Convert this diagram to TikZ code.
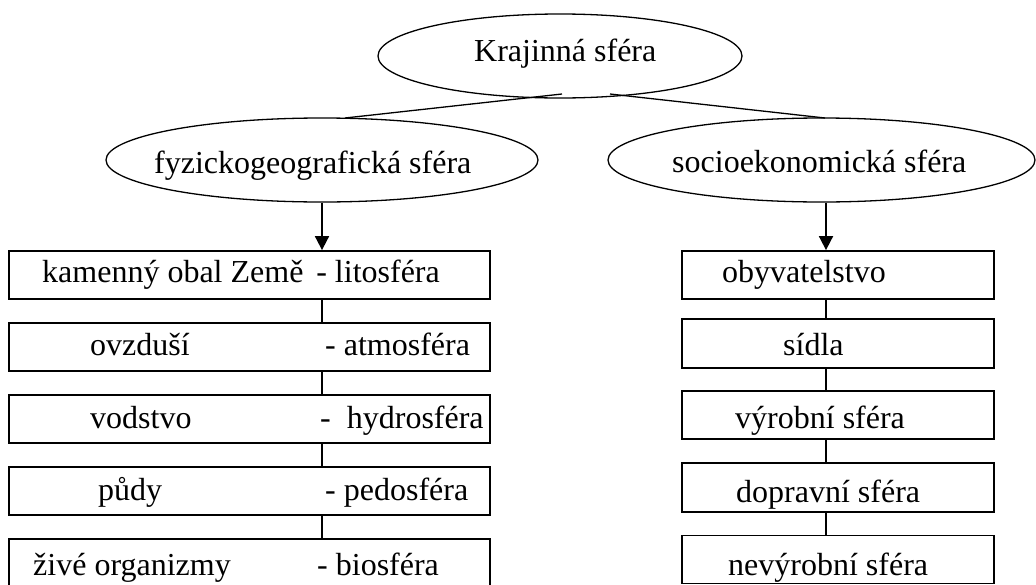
\documentclass[tikz,border=0pt]{standalone}
\usepackage{fontspec}
\setmainfont{Liberation Serif}
\usetikzlibrary{arrows.meta,shapes.geometric}
\begin{document}
\begin{tikzpicture}[x=1pt,y=-1pt,
  ell/.style={draw,ellipse,line width=1.3pt,inner sep=0pt},
  box/.style={draw,rectangle,line width=1.8pt,inner sep=0pt},
  lbox/.style={box,minimum width=481pt,minimum height=48pt},
  rbox/.style={box,minimum width=312pt,minimum height=48pt},
  txt/.style={anchor=base west,inner sep=0pt,font=\fontsize{32}{38}\selectfont},
  txte/.style={txt,anchor=base east},
  conn/.style={line width=1.8pt},
  arr/.style={conn,-{Triangle[length=14pt,width=14pt]}},
  ln/.style={line width=1.3pt}]
\useasboundingbox (0,0) rectangle (1036,584);
% ellipses
\node[ell,minimum width=364pt,minimum height=84pt] (top) at (560,56) {};
\node[ell,minimum width=432pt,minimum height=84pt] (fyz) at (322,160) {};
\node[ell,minimum width=427pt,minimum height=84pt] (soc) at (821.5,160) {};
\node[txt] (ttop) at (474,61) {Krajinná sféra};
\node[txt] (tfyz) at (154,173) {fyzickogeografická sféra};
\node[txt] (tsoc) at (672,172) {socioekonomická sféra};
% lines from top
\coordinate (tl) at (562,94);
\coordinate (tr) at (610,94);
\coordinate (fl) at (345,118);
\coordinate (sr) at (825,118);
\draw[ln] (tl) -- (fl);
\draw[ln] (tr) -- (sr);
% left boxes
\node[lbox] (l1) at (249.5,275) {};
\node[lbox] (l2) at (249.5,347) {};
\node[lbox] (l3) at (249.5,419) {};
\node[lbox] (l4) at (249.5,491) {};
\node[lbox] (l5) at (249.5,563) {};
\node[txt] (l1a) at (42,282) {kamenný obal Země};
\node[txte] (l1b) at (440,282) {- litosféra};
\node[txt] (l2a) at (90,355) {ovzduší};
\node[txt] (l2b) at (325,355) {- atmosféra};
\node[txt] (l3a) at (90,428) {vodstvo};
\node[txt] (l3b) at (320,428) {-~~hydrosféra};
\node[txt] (l4a) at (98,500) {půdy};
\node[txt] (l4b) at (325,500) {- pedosféra};
\node[txt] (l5a) at (33,575) {živé organizmy};
\node[txt] (l5b) at (317,575) {- biosféra};
% right boxes
\node[rbox] (r1) at (838,275) {};
\node[rbox,minimum height=49pt] (r2) at (838,343.5) {};
\node[rbox] (r3) at (838,415) {};
\node[rbox,minimum height=49pt] (r4) at (838,487.5) {};
\node[rbox] (r5) at (838,559.5) {};
\node[txt] (r1t) at (722,282) {obyvatelstvo};
\node[txt] (r2t) at (783,355) {sídla};
\node[txt] (r3t) at (735,428) {výrobní sféra};
\node[txt] (r4t) at (736,502) {dopravní sféra};
\node[txt] (r5t) at (728,575) {nevýrobní sféra};
% arrows
\coordinate (rx) at (826,0);
\draw[arr] (fyz.south) -- (fyz.south |- l1.north);
\draw[arr] (rx |- soc.south) -- (rx |- r1.north);
% connectors
\draw[conn] (l1.south -| fyz) -- (l2.north -| fyz);
\draw[conn] (l2.south -| fyz) -- (l3.north -| fyz);
\draw[conn] (l3.south -| fyz) -- (l4.north -| fyz);
\draw[conn] (l4.south -| fyz) -- (l5.north -| fyz);
\draw[conn] (r1.south -| rx) -- (r2.north -| rx);
\draw[conn] (r2.south -| rx) -- (r3.north -| rx);
\draw[conn] (r3.south -| rx) -- (r4.north -| rx);
\draw[conn] (r4.south -| rx) -- (r5.north -| rx);
\end{tikzpicture}
\end{document}
